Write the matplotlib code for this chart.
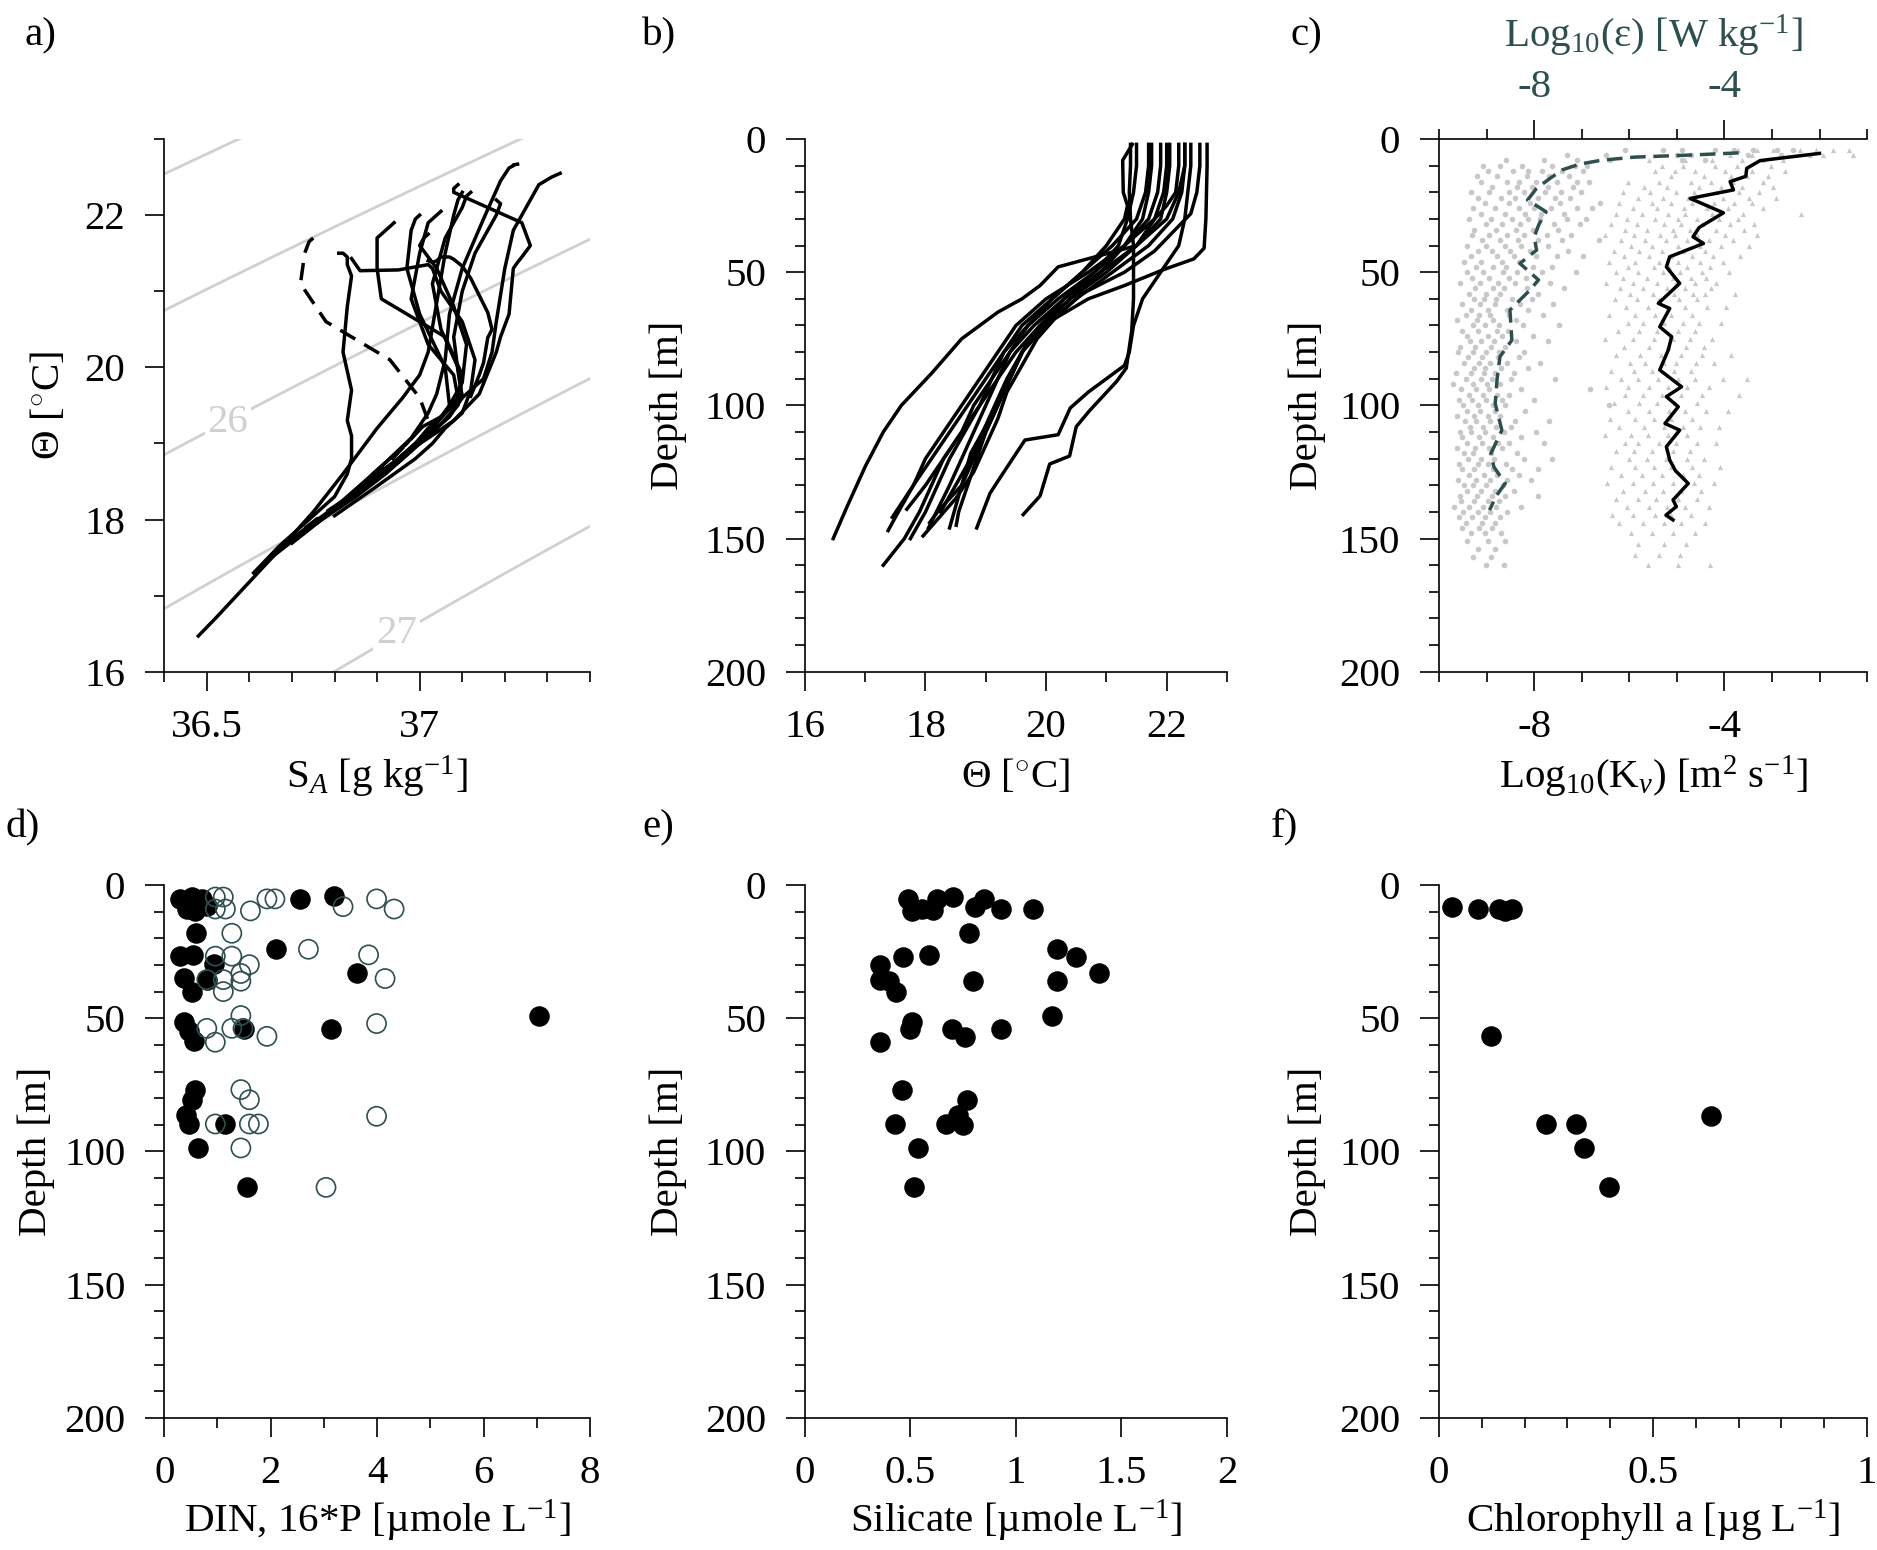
import matplotlib
matplotlib.use("Agg")
import matplotlib.pyplot as plt
import numpy as np
from matplotlib.ticker import MultipleLocator, FixedLocator

plt.rcParams['font.family'] = ['Liberation Serif', 'DejaVu Serif']
plt.rcParams['mathtext.fontset'] = 'custom'
plt.rcParams['mathtext.rm'] = 'Liberation Serif'
plt.rcParams['mathtext.it'] = 'Liberation Serif:italic'
plt.rcParams['mathtext.bf'] = 'Liberation Serif:bold'
plt.rcParams['axes.unicode_minus'] = False
plt.rcParams['font.size'] = 29.5

SLATE = '#2f4f4f'
GREY = '#c8c8c8'

# ---- CTD casts: depth [m], conservative temperature [C], absolute salinity [g/kg]
cast_depth = [
    [2, 10, 20, 30, 41, 45, 49, 55, 60, 68, 78, 90, 105, 118, 130, 146],
    [2, 10, 20, 28, 35, 42, 50, 58, 66, 75, 85, 95, 105, 115, 125, 135, 149],
    [2, 10, 20, 30, 40, 50, 60, 70, 80, 85, 95, 101, 111, 113, 125, 133, 146],
    [2, 10, 20, 30, 40, 50, 60, 72, 86, 91, 102, 108, 119, 122, 134, 141],
    [2, 10, 20, 30, 40, 50, 60, 70, 80, 90, 100, 110, 120, 130, 140, 150, 160],
    [2, 10, 20, 30, 40, 50, 60, 70, 80, 90, 100, 110, 120, 130, 140, 147],
    [2, 10, 20, 30, 40, 50, 60, 70, 80, 90, 100, 110, 120, 130, 139],
    [2, 10, 20, 25, 30, 40, 50, 60, 70, 80, 90, 100, 110, 120, 130, 140, 145],
    [2, 10, 20, 30, 40, 50, 60, 70, 80, 90, 100, 110, 120, 130, 140, 144],
    [2, 10, 20, 30, 40, 50, 60, 70, 80, 90, 100, 110, 120, 130, 140, 150],
    [2, 10, 20, 30, 40, 50, 60, 70, 80, 90, 100, 110, 120, 130, 140],
    [2, 10, 20, 30, 40, 50, 60, 70, 80, 90, 100, 110, 120, 130, 142],
    [2, 8, 20, 25, 30, 40, 50, 60, 70, 80, 90, 100, 110, 120, 130, 146],
    [2, 10, 20, 30, 40, 48, 55, 60, 65, 75, 88, 100, 110, 123, 138, 150],
]
cast_theta = [
    [22.67, 22.67, 22.66, 22.65, 22.62, 22.45, 21.95, 21.3, 20.7, 20.1, 19.65, 19.4, 19.07, 18.75, 18.6, 18.4],
    [22.55, 22.55, 22.5, 22.4, 22.1, 21.8, 21.3, 20.6, 20.2, 19.85, 19.6, 19.35, 19.2, 19.0, 18.8, 18.5, 17.96],
    [22.4, 22.4, 22.35, 22.3, 22.2, 21.9, 21.6, 21.45, 21.38, 21.3, 20.7, 20.4, 20.2, 19.65, 19.3, 19.07, 18.85],
    [21.4, 21.4, 21.38, 21.4, 21.45, 21.45, 21.45, 21.42, 21.33, 21.17, 20.72, 20.5, 20.39, 20.06, 19.9, 19.62],
    [21.5, 21.5, 21.45, 21.35, 21.2, 20.8, 20.2, 19.7, 19.3, 19.1, 18.8, 18.6, 18.3, 18.1, 17.9, 17.65, 17.3],
    [21.7, 21.7, 21.65, 21.5, 21.1, 20.6, 20.1, 19.6, 19.3, 19.0, 18.7, 18.4, 18.1, 17.8, 17.55, 17.38],
    [21.9, 21.9, 21.85, 21.7, 21.3, 20.9, 20.4, 19.9, 19.5, 19.2, 18.9, 18.6, 18.3, 18.0, 17.69],
    [22.2, 22.2, 22.15, 22.0, 21.8, 21.5, 21.0, 20.4, 19.95, 19.6, 19.4, 19.2, 19.0, 18.85, 18.7, 18.55, 18.51],
    [22.05, 22.05, 22.0, 21.9, 21.5, 20.9, 20.3, 19.9, 19.6, 19.4, 19.2, 19.0, 18.8, 18.6, 18.2, 18.07],
    [21.75, 21.75, 21.7, 21.6, 21.3, 20.8, 20.3, 19.8, 19.4, 19.1, 18.9, 18.65, 18.4, 18.2, 18.0, 17.75],
    [22.3, 22.3, 22.25, 22.1, 21.7, 21.1, 20.5, 20.0, 19.6, 19.35, 19.15, 18.95, 18.75, 18.5, 18.25],
    [22.0, 22.0, 21.95, 21.8, 21.3, 20.7, 20.0, 19.5, 19.2, 18.9, 18.6, 18.3, 18.0, 17.8, 17.45],
    [21.43, 21.27, 21.28, 21.35, 21.3, 21.0, 20.6, 20.1, 19.7, 19.4, 19.2, 19.0, 18.8, 18.6, 18.4, 18.05],
    [22.3, 22.3, 22.2, 22.0, 21.5, 20.2, 19.9, 19.6, 19.2, 18.6, 18.1, 17.6, 17.3, 17.0, 16.7, 16.47],
]
cast_salt = [
    [37.23, 37.23, 37.22, 37.22, 37.21, 37.19, 37.15, 37.10, 37.07, 37.06, 37.04, 37.02, 36.98, 36.92, 36.89, 36.86],
    [37.33, 37.33, 37.31, 37.28, 37.25, 37.22, 37.20, 37.18, 37.17, 37.15, 37.10, 37.05, 37.00, 36.97, 36.93, 36.87, 36.76],
    [37.09, 37.09, 37.08, 37.08, 37.12, 37.24, 37.26, 37.24, 37.23, 37.22, 37.21, 37.19, 37.18, 37.14, 37.08, 37.02, 36.96],
    [37.02, 37.02, 37.03, 37.04, 37.05, 37.06, 37.07, 37.08, 37.10, 37.12, 37.16, 37.17, 37.16, 37.15, 37.14, 37.12],
    [36.81, 36.82, 36.83, 36.83, 36.84, 36.83, 36.82, 36.84, 36.83, 36.84, 36.84, 36.83, 36.80, 36.76, 36.72, 36.67, 36.61],
    [36.75, 36.75, 36.74, 36.73, 36.72, 36.78, 36.93, 37.00, 37.02, 36.97, 36.92, 36.86, 36.78, 36.71, 36.66, 36.63],
    [36.94, 36.94, 36.93, 36.90, 36.90, 36.91, 37.06, 37.10, 37.09, 37.04, 36.98, 36.91, 36.84, 36.77, 36.70],
    [37.18, 37.18, 37.19, 37.18, 37.16, 37.13, 37.10, 37.08, 37.09, 37.10, 37.06, 37.03, 36.99, 36.96, 36.93, 36.90, 36.89],
    [37.05, 37.05, 37.04, 37.02, 37.00, 36.98, 37.02, 37.08, 37.09, 37.06, 37.02, 36.99, 36.95, 36.90, 36.81, 36.78],
    [37.02, 37.02, 37.01, 37.00, 37.04, 37.08, 37.11, 37.10, 37.06, 37.01, 36.97, 36.92, 36.86, 36.81, 36.76, 36.70],
    [37.12, 37.12, 37.11, 37.10, 37.06, 37.03, 37.05, 37.09, 37.10, 37.07, 37.03, 36.99, 36.95, 36.89, 36.83],
    [37.00, 37.00, 36.99, 36.98, 36.97, 37.00, 37.06, 37.07, 37.03, 36.98, 36.92, 36.85, 36.77, 36.72, 36.64],
    [36.84, 36.86, 36.95, 37.02, 37.03, 37.05, 37.10, 37.13, 37.12, 37.10, 37.06, 37.03, 36.99, 36.94, 36.89, 36.80],
    [37.10, 37.10, 37.09, 37.08, 37.06, 37.02, 37.00, 36.96, 36.90, 36.82, 36.75, 36.67, 36.62, 36.57, 36.52, 36.48],
]
dashed_cast = 5
sigma_levels = [25.0, 25.5, 26.0, 26.5, 27.0]

# ---- microstructure: log10(epsilon) and log10(Kv), by depth row
eps_depth = [4, 6, 8, 10, 12, 14, 16, 18, 20, 22, 24, 26, 28, 30, 32, 34, 36, 38, 40, 42, 44, 46, 48,
             50, 52, 54, 56, 58, 60, 62, 64, 66, 68, 70, 72, 74, 76, 78, 80, 82, 84, 86, 88, 90, 92, 94,
             96, 98, 100, 102, 104, 106, 108, 110, 112, 114, 116, 118, 120, 122, 124, 126, 128, 130,
             132, 134, 136, 138, 140, 142, 144, 146, 148, 151, 154, 157, 160]
eps_rows = [
    [-6.1, -5.3, -4.9, -4.2, -3.8, -3.4, -2.9, -2.55],
    [-7.3, -6.5, -5.0, -4.7, -3.5, -2.8],
    [-8.6, -7.8, -7.1, -6.4, -4.9, -4.4],
    [-9.08, -8.71, -8.25, -7.62, -7.15, -6.88],
    [-8.97, -8.45, -8.12, -7.84, -7.41, -6.98],
    [-9.21, -8.78, -8.16, -7.69, -7.27],
    [-9.12, -8.58, -8.31, -7.96, -7.52, -7.09, -6.85],
    [-8.89, -8.36, -8.04, -7.71, -7.19],
    [-9.32, -8.94, -8.52, -8.21, -7.78, -7.44, -7.02],
    [-9.18, -8.69, -8.41, -7.92, -7.56, -7.24],
    [-9.03, -8.54, -8.09, -7.46, -6.61],
    [-9.29, -8.82, -8.33, -8.01, -7.64, -7.11, -6.79],
    [-9.11, -8.62, -8.19, -7.86, -7.38],
    [-9.38, -8.91, -8.46, -8.13, -7.88, -7.31, -6.92],
    [-9.02, -8.68, -8.29, -7.59, -7.03],
    [-9.26, -8.81, -8.39, -8.02, -7.49],
    [-9.31, -8.96, -8.58, -8.21, -7.74, -7.22],
    [-9.09, -8.72, -8.34, -7.91, -7.42, -6.63],
    [-9.42, -9.01, -8.62, -8.28, -7.71],
    [-9.19, -8.88, -8.51, -8.09, -7.29],
    [-9.33, -8.79, -8.42, -7.96, -7.51, -6.98],
    [-9.48, -9.12, -8.68, -8.32],
    [-9.22, -8.86, -8.59, -8.03, -7.62],
    [-9.42, -9.07, -8.66, -8.37, -7.83, -7.12],
    [-9.31, -8.94, -8.52, -8.18],
    [-9.55, -9.13, -8.77, -8.41, -7.66],
    [-9.24, -8.87, -8.63, -8.16, -7.38],
    [-9.38, -9.02, -8.71, -7.93],
    [-9.27, -9.06, -8.81, -8.47, -8.04],
    [-9.52, -9.14, -8.83, -8.29, -7.61],
    [-9.33, -8.97, -8.58, -8.12],
    [-9.44, -9.16, -8.92, -8.53, -7.82],
    [-9.63, -9.21, -8.86, -8.38],
    [-9.29, -9.03, -8.74, -8.23, -7.48],
    [-9.51, -9.19, -8.79, -8.56],
    [-9.41, -8.98, -8.68, -8.02],
    [-9.34, -9.11, -8.84, -8.39, -7.72],
    [-9.56, -9.24, -8.91, -8.62],
    [-9.61, -9.28, -9.01, -8.73, -8.21],
    [-9.39, -9.09, -8.76, -8.31],
    [-9.48, -9.17, -8.93, -8.57, -7.88],
    [-9.26, -9.04, -8.69, -8.13],
    [-9.64, -9.32, -9.06, -8.82, -8.43],
    [-9.43, -9.12, -8.88, -8.49, -7.57],
    [-9.71, -9.29, -8.99, -8.71],
    [-9.53, -9.22, -8.94, -8.28, -6.83],
    [-9.37, -9.08, -8.78, -8.52],
    [-9.58, -9.31, -9.02, -8.67, -8.01],
    [-9.49, -9.18, -8.87, -8.61, -6.42],
    [-9.42, -9.13, -8.82, -8.19],
    [-9.62, -9.27, -8.97, -8.72],
    [-9.46, -9.23, -8.92, -8.41, -7.69],
    [-9.36, -9.07, -8.81, -8.48],
    [-9.57, -9.33, -9.04, -8.63, -7.97],
    [-9.52, -9.16, -8.86, -8.27],
    [-9.41, -9.09, -8.77, -8.53, -7.79],
    [-9.63, -9.24, -8.96, -8.68],
    [-9.47, -9.28, -8.91, -8.36],
    [-9.39, -9.11, -8.84, -8.22, -7.63],
    [-9.58, -9.19, -8.98, -8.59],
    [-9.51, -9.26, -8.87, -8.46, -7.91],
    [-9.38, -9.06, -8.79, -8.32],
    [-9.61, -9.22, -8.93, -8.58, -8.07],
    [-9.48, -9.29, -9.01, -8.66],
    [-9.42, -9.12, -8.83, -8.42],
    [-9.57, -9.21, -8.89, -8.61, -7.93],
    [-9.53, -9.27, -8.98, -8.74],
    [-9.68, -9.37, -9.08, -8.81, -8.28],
    [-9.49, -9.18, -8.92, -8.57],
    [-9.59, -9.31, -9.03, -8.71],
    [-9.44, -9.09, -8.82],
    [-9.52, -9.17, -8.88],
    [-9.33, -9.04, -8.69],
    [-9.41, -8.97, -8.62],
    [-9.19, -8.83],
    [-9.28, -8.91],
    [-9.02, -8.63],
]

kv_depth = [4, 6, 8, 10, 12, 14, 16, 18, 20, 22, 24, 26, 28, 30, 32, 34, 36, 38, 40, 42, 44, 46, 48,
            50, 52, 54, 56, 58, 60, 63, 66, 69, 72, 75, 78, 81, 84, 87, 90, 93, 96, 99, 102, 105, 108,
            111, 114, 117, 120, 123, 126, 129, 132, 135, 138, 141, 144, 148, 152, 156, 160]
kv_rows = [
    [-3.72, -3.31, -2.98, -2.41, -2.08, -1.71, -1.38],
    [-3.88, -3.43, -2.21, -1.93, -1.29],
    [-5.58, -4.83, -4.27, -3.62, -3.18, -2.77],
    [-5.31, -4.88, -4.19, -3.73, -3.02],
    [-5.47, -5.04, -4.61, -3.98, -3.41, -2.72],
    [-5.12, -4.42, -3.87, -3.52, -3.08],
    [-6.02, -5.38, -4.71, -4.28, -3.81, -3.19],
    [-5.69, -5.21, -4.53, -4.07, -3.62, -2.98],
    [-6.13, -5.57, -5.02, -4.63, -4.18, -3.69, -3.27],
    [-5.81, -5.29, -4.77, -4.03, -3.48, -2.91],
    [-6.21, -5.52, -5.13, -4.68, -4.22, -3.79, -3.42],
    [-5.93, -5.41, -4.86, -4.37, -3.92, -3.18],
    [-6.28, -5.73, -5.18, -4.82, -4.27, -3.61, -2.38],
    [-6.04, -5.47, -4.98, -4.58, -4.12, -3.71],
    [-6.39, -5.83, -5.27, -4.91, -4.47, -3.88, -3.37],
    [-6.08, -5.62, -5.09, -4.72, -4.17, -3.58],
    [-6.52, -5.91, -5.36, -5.03, -4.57, -3.98, -3.31],
    [-6.17, -5.68, -5.23, -4.79, -4.33, -3.82],
    [-5.97, -5.53, -4.97, -4.52, -4.08, -3.49],
    [-6.33, -5.79, -5.31, -4.87, -4.41],
    [-6.11, -5.58, -5.12, -4.69, -4.23, -3.68],
    [-6.42, -5.87, -5.38, -4.98, -4.52, -4.02],
    [-6.02, -5.49, -5.17, -4.78, -4.31],
    [-6.27, -5.82, -5.29, -4.93, -4.48, -3.91],
    [-6.14, -5.63, -5.08, -4.71, -4.38],
    [-6.48, -5.93, -5.42, -5.01, -4.62, -4.17],
    [-6.19, -5.72, -5.21, -4.83, -4.29],
    [-5.98, -5.51, -5.07, -4.67, -4.41, -3.78],
    [-6.31, -5.84, -5.37, -4.96, -4.58],
    [-6.07, -5.61, -5.18, -4.82, -4.37, -3.97],
    [-6.43, -5.88, -5.47, -5.12, -4.68],
    [-6.02, -5.71, -5.27, -4.88, -4.53, -4.08],
    [-6.23, -5.79, -5.41, -4.97, -4.61],
    [-6.51, -5.92, -5.48, -5.09, -4.72, -4.27],
    [-6.12, -5.58, -5.19, -4.81, -4.42],
    [-6.29, -5.77, -5.33, -4.91, -4.47, -3.86],
    [-5.99, -5.68, -5.28, -5.02, -4.59, -4.21],
    [-6.38, -5.91, -5.52, -5.07, -4.71],
    [-6.18, -5.81, -5.39, -4.98, -4.62, -4.03, -3.52],
    [-6.49, -6.02, -5.58, -5.19, -4.78, -4.32],
    [-6.09, -5.72, -5.31, -4.92, -4.48, -3.69],
    [-6.32, -5.79, -5.42, -5.03, -4.57],
    [-6.03, -5.59, -5.17, -4.82, -4.39, -3.93],
    [-6.41, -5.88, -5.49, -5.12, -4.69],
    [-6.22, -5.69, -5.28, -4.87, -4.51, -4.12],
    [-6.52, -5.97, -5.61, -5.18, -4.79],
    [-6.08, -5.82, -5.37, -5.01, -4.58, -4.18],
    [-6.27, -5.91, -5.52, -5.09, -4.72],
    [-6.01, -5.62, -5.23, -4.79, -4.42],
    [-6.39, -5.87, -5.48, -5.13, -4.68, -4.09],
    [-6.17, -5.73, -5.32, -4.88, -4.53],
    [-6.47, -5.92, -5.51, -5.08, -4.63, -4.22],
    [-6.13, -5.68, -5.29, -4.91, -4.49],
    [-6.28, -5.81, -5.43, -4.98, -4.57],
    [-6.04, -5.59, -5.21, -4.83, -4.32],
    [-6.37, -5.93, -5.47, -5.12, -4.71],
    [-6.21, -5.72, -5.28, -4.92, -4.41],
    [-5.97, -5.52, -5.08, -4.62],
    [-5.82, -5.27, -4.81],
    [-5.89, -5.38, -4.93],
    [-5.61, -4.98, -4.31],
]

eps_mean_depth = [5.2, 6.0, 6.8, 8.0, 9.4, 11.5, 14.8, 18.5, 22.9, 27.3, 32.0, 36.7, 41.7, 46.7, 52.9,
                  56.7, 64.2, 75.5, 81.7, 90.0, 99.3, 109.3, 118.0, 123.0, 129.3, 134.0, 139.3]
eps_mean = [-3.7, -4.7, -5.9, -6.6, -7.04, -7.4, -7.67, -7.95, -8.14, -7.75, -7.9, -8.0, -7.95, -8.3,
            -7.91, -8.09, -8.51, -8.47, -8.72, -8.78, -8.82, -8.68, -8.91, -8.85, -8.61, -8.8, -8.94]
kv_mean_depth = [5.4, 8.1, 11.0, 14.0, 16.0, 19.1, 22.3, 27.7, 33.2, 36.7, 39.2, 44.2, 48.0, 54.2, 61.7,
                 63.6, 70.5, 74.2, 79.2, 86.7, 93.0, 96.7, 100.5, 106.8, 109.3, 115.5, 120.5, 124.5,
                 129.3, 135.5, 138.0, 141.2, 143.0]
kv_mean = [-2.0, -3.25, -3.53, -3.55, -3.88, -3.81, -4.72, -4.02, -4.53, -4.66, -4.44, -5.15, -5.22,
           -4.94, -5.39, -5.15, -5.36, -5.11, -5.18, -5.36, -4.9, -5.22, -4.97, -5.25, -4.94, -5.22,
           -5.15, -5.03, -4.76, -5.08, -5.01, -5.23, -5.08]

# ---- bottle samples
din_depth = [5.2, 4.5, 5.2, 9.0, 9.7, 7.7, 5.2, 4.1, 18.1, 26.7, 26.2, 29.7, 24.1, 33.2, 34.8, 35.7,
             40.0, 51.6, 54.8, 58.7, 53.9, 53.9, 49.0, 76.8, 80.6, 86.5, 89.7, 89.7, 98.7, 113.5]
din = [0.30, 0.52, 0.71, 0.43, 0.58, 0.80, 2.55, 3.19, 0.60, 0.30, 0.54, 0.93, 2.10, 3.62, 0.38, 0.80,
       0.52, 0.38, 0.46, 0.55, 1.49, 3.13, 7.04, 0.58, 0.52, 0.41, 0.46, 1.15, 0.63, 1.55]
p16_depth = [4.5, 4.5, 9.0, 9.0, 9.7, 5.2, 5.2, 8.1, 5.2, 9.0, 18.1, 26.7, 26.7, 29.9, 24.1, 26.2, 35.1,
             35.5, 35.5, 33.2, 36.1, 40.0, 49.0, 53.8, 53.8, 53.8, 56.8, 59.0, 52.0, 76.8, 80.6, 89.7,
             89.7, 89.7, 86.8, 98.7, 113.5]
p16 = [0.96, 1.11, 0.96, 1.15, 1.62, 1.93, 2.08, 3.36, 3.99, 4.32, 1.27, 0.96, 1.27, 1.60, 2.71, 3.84,
       4.15, 0.80, 1.11, 1.44, 1.44, 1.11, 1.44, 0.80, 1.27, 1.48, 1.93, 0.96, 3.99, 1.44, 1.60, 0.96,
       1.60, 1.77, 3.99, 1.44, 3.04]
si_depth = [5.2, 9.7, 9.0, 9.4, 5.2, 4.5, 8.1, 5.2, 9.0, 9.0, 18.1, 27.1, 26.2, 30.1, 35.5, 36.1, 40.0,
            36.1, 24.1, 27.1, 33.2, 36.1, 49.0, 51.6, 54.2, 53.9, 57.0, 53.9, 59.0, 76.8, 80.6, 86.5,
            89.7, 89.9, 89.7, 98.7, 113.5]
silicate = [0.487, 0.506, 0.553, 0.608, 0.624, 0.703, 0.806, 0.850, 0.929, 1.082, 0.779, 0.466, 0.588,
            0.355, 0.355, 0.398, 0.434, 0.798, 1.193, 1.283, 1.395, 1.193, 1.172, 0.506, 0.498, 0.698,
            0.758, 0.929, 0.355, 0.458, 0.769, 0.727, 0.671, 0.750, 0.427, 0.537, 0.518]
chl_depth = [8.1, 9.0, 9.0, 9.7, 9.0, 56.8, 89.7, 89.7, 98.7, 113.5, 86.8]
chl = [0.030, 0.090, 0.139, 0.154, 0.170, 0.121, 0.249, 0.319, 0.339, 0.398, 0.636]


def sigma0(sa, ct):
    # EOS-80 one-atmosphere density anomaly, SA converted to practical salinity
    s = sa * 35.0 / 35.16504
    t = ct
    rw = (999.842594 + 6.793952e-2 * t - 9.095290e-3 * t ** 2 + 1.001685e-4 * t ** 3
          - 1.120083e-6 * t ** 4 + 6.536332e-9 * t ** 5)
    a = 8.24493e-1 - 4.0899e-3 * t + 7.6438e-5 * t ** 2 - 8.2467e-7 * t ** 3 + 5.3875e-9 * t ** 4
    b = -5.72466e-3 + 1.0227e-4 * t - 1.6546e-6 * t ** 2
    c = 4.8314e-4
    return rw + a * s + b * s ** 1.5 + c * s ** 2 - 1000.0


def style(ax):
    ax.spines['top'].set_visible(False)
    ax.spines['right'].set_visible(False)
    ax.spines['left'].set_linewidth(1.2)
    ax.spines['bottom'].set_linewidth(1.2)
    ax.tick_params(which='both', direction='out', width=1.2)
    ax.tick_params(which='major', length=14)
    ax.tick_params(which='minor', length=7)
    ax.tick_params(axis='x', pad=13)
    ax.tick_params(axis='y', pad=14)


def depth_axis(ax):
    ax.set_ylim(200, 0)
    ax.set_yticks([0, 50, 100, 150, 200])
    ax.yaxis.set_minor_locator(MultipleLocator(10))
    ax.set_ylabel('Depth [m]')


fig = plt.figure(figsize=(18.77, 15.5), dpi=100)
ax_a = fig.add_axes([0.0875, 0.5666, 0.2268, 0.3437])
ax_b = fig.add_axes([0.4288, 0.5666, 0.2249, 0.3437])
ax_c = fig.add_axes([0.7667, 0.5666, 0.2280, 0.3437])
ax_d = fig.add_axes([0.0875, 0.0853, 0.2268, 0.3437])
ax_e = fig.add_axes([0.4288, 0.0853, 0.2249, 0.3437])
ax_f = fig.add_axes([0.7667, 0.0853, 0.2280, 0.3437])
for ax in [ax_a, ax_b, ax_c, ax_d, ax_e, ax_f]:
    style(ax)

# a) Theta-S diagram
sg, tg = np.meshgrid(np.linspace(36.3, 37.5, 200), np.linspace(15.5, 23.5, 200))
ax_a.contour(sg, tg, sigma0(sg, tg), levels=sigma_levels, colors='#d0d0d0', linewidths=2.0, zorder=1)
ax_a.text(36.55, 19.27, '26', color='#d0d0d0', ha='center', va='center', zorder=2,
          bbox=dict(facecolor='white', edgecolor='none', pad=2))
ax_a.text(36.945, 16.5, '27', color='#d0d0d0', ha='center', va='center', zorder=2,
          bbox=dict(facecolor='white', edgecolor='none', pad=2))
for i in range(len(cast_depth)):
    if i == dashed_cast:
        ax_a.plot(cast_salt[i], cast_theta[i], color='k', lw=2.5, dashes=[5, 3], zorder=3)
    else:
        ax_a.plot(cast_salt[i], cast_theta[i], color='k', lw=2.5, zorder=3)
ax_a.set_xlim(36.4, 37.4)
ax_a.set_ylim(16, 23)
ax_a.set_xticks([36.5, 37])
ax_a.set_xticklabels(['36.5', '37'])
ax_a.xaxis.set_minor_locator(FixedLocator(np.arange(36.4, 37.41, 0.1)))
ax_a.set_yticks([16, 18, 20, 22])
ax_a.yaxis.set_minor_locator(FixedLocator([17, 19, 21, 23]))
ax_a.set_xlabel(r'S$_{\mathit{A}}$ [g kg$^{\mathrm{-1}}$]')
ax_a.set_ylabel(r'Θ [$^{\circ}$C]')

# b) temperature profiles
for i in range(len(cast_depth)):
    ax_b.plot(cast_theta[i], cast_depth[i], color='k', lw=2.5)
ax_b.set_xlim(16, 23)
ax_b.set_xticks([16, 18, 20, 22])
ax_b.xaxis.set_minor_locator(FixedLocator([17, 19, 21, 23]))
ax_b.set_xlabel(r'Θ [$^{\circ}$C]')
depth_axis(ax_b)

# c) dissipation and diffusivity
for z, row in zip(eps_depth, eps_rows):
    ax_c.scatter(row, [z] * len(row), s=16, color=GREY, marker='o', linewidths=0, zorder=1)
for z, row in zip(kv_depth, kv_rows):
    ax_c.scatter(row, [z] * len(row), s=14, color=GREY, marker='^', linewidths=0, zorder=1)
ax_c.plot(eps_mean, eps_mean_depth, color=SLATE, lw=2.5, dashes=[4.5, 2.2], zorder=3)
ax_c.plot(kv_mean, kv_mean_depth, color='k', lw=2.5, zorder=3)
ax_c.set_xlim(-10, -1)
ax_c.set_xticks([-8, -4])
ax_c.xaxis.set_minor_locator(MultipleLocator(1))
ax_c.set_xlabel(r'Log$_{\mathrm{10}}$(K$_{\nu}$) [m$^{\mathrm{2}}$ s$^{\mathrm{-1}}$]')
depth_axis(ax_c)
ax_top = ax_c.twiny()
ax_top.set_xlim(-10, -1)
ax_top.set_xticks([-8, -4])
ax_top.xaxis.set_minor_locator(MultipleLocator(1))
for side in ['left', 'right', 'bottom']:
    ax_top.spines[side].set_visible(False)
ax_top.spines['top'].set_linewidth(1.2)
ax_top.tick_params(which='both', direction='out', width=1.2, pad=10, labelcolor=SLATE)
ax_top.tick_params(which='major', length=14)
ax_top.tick_params(which='minor', length=7)
ax_top.set_xlabel(r'Log$_{\mathrm{10}}$(ε) [W kg$^{\mathrm{-1}}$]', color=SLATE)

# d) nutrients
ax_d.scatter(din, din_depth, s=190, color='k', zorder=2)
ax_d.scatter(p16, p16_depth, s=190, facecolors='none', edgecolors=SLATE, linewidths=1.2, zorder=3)
ax_d.set_xlim(0, 8)
ax_d.set_xticks([0, 2, 4, 6, 8])
ax_d.xaxis.set_minor_locator(MultipleLocator(1))
ax_d.set_xlabel(r'DIN, 16*P [µmole L$^{\mathrm{-1}}$]')
depth_axis(ax_d)

# e) silicate
ax_e.scatter(silicate, si_depth, s=190, color='k', zorder=2)
ax_e.set_xlim(0, 2)
ax_e.set_xticks([0, 0.5, 1, 1.5, 2])
ax_e.set_xticklabels(['0', '0.5', '1', '1.5', '2'])
ax_e.set_xlabel(r'Silicate [µmole L$^{\mathrm{-1}}$]')
depth_axis(ax_e)

# f) chlorophyll
ax_f.scatter(chl, chl_depth, s=190, color='k', zorder=2)
ax_f.set_xlim(0, 1)
ax_f.set_xticks([0, 0.5, 1])
ax_f.set_xticklabels(['0', '0.5', '1'])
ax_f.xaxis.set_minor_locator(MultipleLocator(0.1))
ax_f.set_xlabel(r'Chlorophyll a [µg L$^{\mathrm{-1}}$]')
depth_axis(ax_f)

for ax in [ax_a, ax_b, ax_c, ax_d, ax_e, ax_f]:
    ax.xaxis.label.set_va('center')
    ax.yaxis.label.set_va('center')
ax_a.xaxis.set_label_coords(0.5, -0.198)
ax_b.xaxis.set_label_coords(0.5, -0.198)
ax_c.xaxis.set_label_coords(0.5, -0.198)
ax_d.xaxis.set_label_coords(0.5, -0.194)
ax_e.xaxis.set_label_coords(0.5, -0.194)
ax_f.xaxis.set_label_coords(0.5, -0.194)
ax_top.xaxis.label.set_va('center')
ax_top.xaxis.set_label_coords(0.5, 1.193)
ax_a.yaxis.set_label_coords(-0.27, 0.5)
ax_b.yaxis.set_label_coords(-0.323, 0.5)
ax_c.yaxis.set_label_coords(-0.308, 0.5)
ax_d.yaxis.set_label_coords(-0.30, 0.5)
ax_e.yaxis.set_label_coords(-0.323, 0.5)
ax_f.yaxis.set_label_coords(-0.308, 0.5)

fig.text(0.0128, 0.977, 'a)', ha='left', va='center')
fig.text(0.342, 0.977, 'b)', ha='left', va='center')
fig.text(0.6875, 0.977, 'c)', ha='left', va='center')
fig.text(0.003, 0.466, 'd)', ha='left', va='center')
fig.text(0.342, 0.466, 'e)', ha='left', va='center')
fig.text(0.677, 0.466, 'f)', ha='left', va='center')

fig.savefig('out.png', dpi=100)
